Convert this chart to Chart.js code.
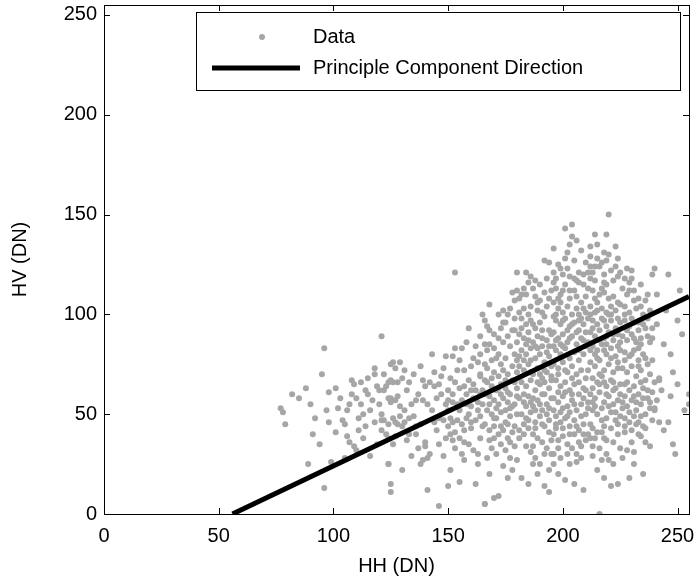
<!DOCTYPE html>
<html><head><meta charset="utf-8">
<script src="https://cdn.jsdelivr.net/npm/chart.js@4.4.0/dist/chart.umd.min.js"></script>
<style>html,body{margin:0;padding:0;background:#fff}#wrap{width:700px;height:585px}</style>
</head><body><div id="wrap"><canvas id="c" width="700" height="585"></canvas></div>
<script>
// Tick values (both axes)
const axisTicks = [0, 50, 100, 150, 200, 250];
// Principal component direction line (HH, HV)
const pcHH = [56, 255];
const pcHV = [0, 109];
// Data samples [HH, HV], grouped by HH range
const samplesHH075 = [[77,53],[78,51],[79,45],[88,63],[89,25],[91,40],[92,48],[96,83],[96,13],[98,61],[98,46],[99,26],[90,55],[94,35],[85,58],[82,60],[95,70],[97,52]];
const samplesHH100 = [[101,63],[101,41],[104,47],[105,28],[106,39],[106,52],[107,55],[108,60],[109,65],[110,58],[108,67],[109,34],[110,32],[111,42],[112,66],[113,50],[114,44],[115,68],[116,29],[116,52],[118,46],[118,73],[118,70],[120,62],[121,47],[121,42],[121,89],[121,50],[122,62],[124,66],[124,25],[123,40],[103,58],[105,45],[107,36],[112,55],[113,38],[115,60],[117,57],[119,35],[120,55],[122,70],[124,45],[102,53],[111,48],[114,62],[119,64],[125,58]];
const samplesHH125 = [[125,75],[126,76],[127,73],[128,66],[126,66],[125,67],[123,64],[130,68],[133,66],[138,74],[139,67],[140,64],[142,66],[144,64],[147,69],[148,73],[143,80],[149,79],[146,65],[150,62],[125,56],[124,58],[127,57],[129,54],[131,52],[134,55],[136,57],[139,57],[126,48],[127,46],[128,45],[130,44],[131,46],[133,48],[135,49],[136,44],[138,45],[129,49],[122,47],[124,38],[127,39],[132,37],[136,40],[140,36],[140,34],[142,30],[134,29],[138,25],[139,27],[141,28],[124,25],[130,22],[125,15],[125,11],[141,12],[146,4],[144,46],[146,48],[148,47],[150,44],[149,38],[145,42],[137,60],[132,62],[128,59],[141,55],[143,52],[145,58],[147,60],[135,70],[131,72],[129,76],[144,71],[149,55],[126,35],[133,40],[137,33],[146,35],[148,29]];
const samplesHH150 = [[153,121],[159,93],[164,89],[153,83],[156,83],[152,79],[164,80],[160,74],[163,76],[166,75],[164,70],[164,69],[151,68],[153,66],[155,63],[157,64],[159,67],[161,65],[162,62],[158,60],[160,62],[165,62],[150,57],[152,56],[154,55],[156,57],[158,55],[160,54],[163,56],[165,55],[151,48],[152,46],[154,47],[156,45],[158,48],[160,46],[162,47],[164,49],[165,44],[151,40],[153,41],[155,38],[157,36],[159,35],[161,32],[163,30],[157,27],[151,22],[155,16],[150,14],[162,15],[166,5],[159,50],[161,58],[163,52],[155,52],[152,60],[157,72],[155,77],[162,84],[165,100],[158,86],[160,43],[153,33],[156,30],[164,38],[150,52],[157,42],[164,60],[166,67],[154,72],[161,78],[166,85],[152,37],[163,25]];
const samplesHH165 = [[166,97],[167,94],[168,92],[170,90],[172,88],[168,85],[170,83],[172,80],[174,86],[176,89],[178,92],[177,84],[179,80],[175,78],[173,75],[169,77],[167,73],[170,71],[172,69],[174,72],[176,70],[178,74],[180,77],[167,66],[169,64],[171,62],[173,65],[175,63],[177,60],[179,66],[168,59],[170,57],[172,55],[174,58],[176,56],[178,54],[180,59],[167,52],[169,50],[171,48],[173,51],[175,46],[177,49],[179,44],[166,45],[168,42],[170,44],[172,40],[174,42],[176,38],[178,41],[168,37],[169,33],[171,30],[173,35],[175,32],[177,28],[179,34],[170,8],[172,9],[166,5],[168,20],[174,24],[176,18],[178,22],[180,27],[167,28],[172,100],[175,96],[177,103],[179,107],[178,111],[179,98],[171,78],[175,67],[177,53],[169,68],[173,60],[180,63],[166,60],[176,45],[174,102],[180,71],[168,105],[171,53],[179,55],[170,38],[177,36],[167,82],[173,93],[180,86]];
const samplesHH180 = [[181,38],[187,40],[187,25],[184,121],[185,116],[188,117],[190,115],[192,127],[194,126],[180,121],[181,108],[182,110],[184,110],[188,109],[190,107],[192,111],[186,104],[183,103],[181,101],[185,100],[189,102],[193,104],[194,108],[182,98],[184,95],[186,97],[188,93],[190,96],[192,99],[194,92],[181,90],[183,88],[185,91],[187,86],[189,89],[191,84],[193,87],[195,90],[182,82],[184,80],[186,83],[188,78],[190,80],[192,76],[194,79],[181,74],[183,72],[185,75],[187,70],[189,73],[191,68],[193,71],[195,74],[182,66],[184,64],[186,67],[188,62],[190,65],[192,60],[194,63],[181,58],[183,56],[185,59],[187,54],[189,57],[191,52],[193,55],[195,58],[182,50],[184,48],[186,51],[188,46],[190,49],[192,44],[194,47],[181,42],[183,40],[185,43],[189,38],[191,36],[193,33],[195,30],[184,34],[186,31],[188,28],[190,25],[194,22],[196,25],[194,11],[182,18],[185,15],[189,20],[192,14],[183,60],[186,77],[191,92],[193,81],[187,95],[184,85],[190,70],[186,56],[192,66],[188,52],[183,45],[194,53],[195,67],[191,60],[180,112],[187,113],[193,118],[183,77],[189,83]];
const samplesHH195 = [[201,143],[204,145],[204,139],[196,133],[202,131],[205,127],[198,125],[196,121],[200,120],[196,116],[201,115],[207,121],[209,120],[207,116],[197,113],[199,110],[203,108],[205,112],[208,106],[210,109],[196,106],[198,103],[200,101],[202,104],[204,100],[206,103],[208,98],[210,101],[197,97],[199,95],[201,98],[203,94],[205,96],[207,92],[209,95],[196,91],[198,88],[200,90],[202,86],[204,89],[206,85],[208,88],[210,84],[197,82],[199,80],[201,83],[203,78],[205,81],[207,77],[209,80],[196,75],[198,73],[200,76],[202,71],[204,74],[206,70],[208,72],[210,68],[197,67],[199,64],[201,66],[203,62],[205,65],[207,60],[209,63],[196,58],[198,56],[200,59],[202,54],[204,57],[206,52],[208,55],[210,50],[197,49],[199,46],[201,48],[203,44],[205,47],[207,42],[209,45],[196,40],[198,37],[200,39],[202,35],[204,33],[206,30],[208,34],[210,37],[199,28],[203,25],[206,26],[198,20],[201,17],[205,15],[209,12],[196,30],[208,28],[211,121],[211,98],[211,86],[211,72],[211,56],[211,40],[200,112],[203,119],[206,109],[197,100],[202,92],[207,82],[199,85],[204,68],[200,53],[205,40],[198,61],[209,58],[197,43],[210,91],[196,84],[203,51],[201,72],[207,100],[199,106],[205,118],[209,115],[202,123]];
const samplesHH210 = [[220,150],[214,140],[219,140],[212,134],[215,135],[223,134],[218,131],[220,130],[224,128],[219,127],[212,124],[214,124],[216,124],[213,121],[212,118],[214,117],[218,120],[218,116],[222,117],[224,119],[219,115],[213,112],[216,110],[218,111],[220,108],[222,109],[224,106],[215,106],[212,104],[214,101],[217,103],[219,101],[221,104],[223,102],[225,105],[213,97],[215,95],[217,98],[219,94],[221,97],[223,93],[225,96],[212,91],[214,89],[216,92],[218,88],[220,91],[222,87],[224,90],[213,84],[215,82],[217,85],[219,80],[221,83],[223,79],[225,82],[212,76],[214,74],[216,77],[218,72],[220,75],[222,71],[224,73],[213,68],[215,66],[217,69],[219,64],[221,67],[223,63],[225,65],[212,60],[214,58],[216,61],[218,56],[220,59],[222,55],[224,57],[213,52],[215,50],[217,53],[219,48],[221,51],[223,47],[225,49],[213,43],[214,38],[216,33],[218,44],[217,41],[219,37],[220,27],[217,27],[222,36],[224,40],[213,29],[215,22],[218,18],[221,14],[216,0],[212,45],[222,25],[224,15],[219,89],[216,70],[222,62],[214,80],[220,100],[218,66],[224,84],[213,56]];
const samplesHH225 = [[228,123],[230,122],[229,116],[230,118],[233,108],[236,107],[226,113],[228,110],[231,112],[234,104],[227,104],[229,101],[232,103],[235,100],[238,102],[227,97],[229,94],[231,96],[233,92],[235,95],[237,98],[239,93],[226,89],[228,87],[230,90],[232,86],[234,88],[238,86],[239,88],[227,81],[229,79],[231,82],[233,77],[235,80],[237,75],[226,73],[228,71],[230,74],[232,69],[234,72],[236,67],[238,70],[227,65],[229,62],[231,64],[233,60],[235,63],[237,58],[239,61],[226,56],[228,54],[230,57],[232,52],[234,55],[236,50],[238,53],[240,53],[227,48],[229,46],[231,49],[232,45],[234,49],[227,41],[233,40],[234,39],[236,36],[238,34],[230,36],[228,32],[226,28],[231,25],[235,20],[229,18],[240,123],[239,120],[234,115],[237,110],[239,77],[240,66],[227,59],[233,83],[235,44]];
const samplesHH240 = [[246,120],[250,97],[248,71],[242,68],[242,67],[247,59],[255,60],[255,55],[241,57],[240,52],[249,30],[242,46],[246,46],[244,85],[247,80],[252,90],[243,62],[245,102],[241,110],[250,65],[244,42],[248,35],[253,52],[241,95],[251,112]];
const samplesCore = [[183,113],[186,119],[189,106],[191,101],[195,112],[197,118],[199,123],[201,128],[203,135],[206,137],[208,132],[210,126],[212,129],[215,128],[217,126],[221,122],[223,124],[225,121],[227,118],[229,112],[231,107],[214,108],[217,113],[211,113],[206,117],[203,112],[198,108],[196,99],[200,97],[204,95],[207,97],[209,103],[212,100],[215,102],[218,97],[221,100],[224,98],[227,100],[230,98],[233,96],[236,93],[213,93],[216,87],[219,85],[222,90],[225,86],[228,92],[231,88],[234,85],[237,89],[182,93],[185,87],[188,84],[191,88],[194,84],[197,87],[200,84],[203,88],[206,91],[209,87],[212,82],[215,78],[218,82],[221,78],[224,76],[227,77],[230,80],[233,74],[236,78],[186,71],[189,66],[192,72],[195,69],[198,70],[201,61],[204,60],[207,66],[210,62],[213,63],[216,65],[219,60],[222,66],[225,60],[228,66],[231,59],[234,66],[237,62],[184,54],[187,58],[190,55],[193,50],[196,52],[199,51],[202,49],[205,55],[208,49],[211,53],[214,54],[217,47],[220,54],[223,51],[226,53],[229,51],[232,56],[235,58],[238,56],[185,47],[188,43],[191,45],[194,41],[197,45],[200,43],[203,40],[206,44],[209,40],[212,38],[215,41],[218,38],[221,43],[224,45],[227,44],[230,42],[233,46],[236,43],[239,47],[180,50],[176,61],[178,67],[181,79],[179,92],[176,100],[174,96],[172,63],[170,48],[168,55],[175,52],[173,44],[198,33],[202,30],[207,36],[213,34],[219,30],[225,33],[231,31],[187,34],[192,30],[195,37]];

const allSamples = [].concat(samplesHH075, samplesHH100, samplesHH125, samplesHH150, samplesHH165, samplesHH180, samplesHH195, samplesHH210, samplesHH225, samplesHH240, samplesCore);

const FONT = "'Liberation Sans', Arial, Helvetica, sans-serif";
const GRAY = '#a6a6a6';

const framePlugin = {
  id: 'frame',
  afterDatasetsDraw(chart) {
    const ctx = chart.ctx, a = chart.chartArea;
    const xs = chart.scales.x, ys = chart.scales.y;
    ctx.save();
    ctx.strokeStyle = '#000';
    ctx.lineWidth = 1;
    ctx.strokeRect(Math.round(a.left) + 0.5, Math.round(a.top) + 0.5, Math.round(a.right - a.left), Math.round(a.bottom - a.top));
    const tl = 6;
    ctx.beginPath();
    axisTicks.forEach(v => {
      const px = Math.round(xs.getPixelForValue(v)) + 0.5;
      ctx.moveTo(px, a.bottom); ctx.lineTo(px, a.bottom - tl);
      ctx.moveTo(px, a.top); ctx.lineTo(px, a.top + tl);
      const py = Math.round(ys.getPixelForValue(v)) + 0.5;
      ctx.moveTo(a.left, py); ctx.lineTo(a.left + tl, py);
      ctx.moveTo(a.right, py); ctx.lineTo(a.right - tl, py);
    });
    ctx.stroke();
    // legend
    const lx = 196.5, ly = 12.5, lw = 484, lh = 78;
    ctx.fillStyle = '#fff';
    ctx.fillRect(lx, ly, lw, lh);
    ctx.strokeRect(lx, ly, lw, lh);
    ctx.fillStyle = GRAY;
    ctx.beginPath(); ctx.arc(262, 37, 3, 0, Math.PI * 2); ctx.fill();
    ctx.strokeStyle = '#000'; ctx.lineWidth = 5;
    ctx.beginPath(); ctx.moveTo(212, 68); ctx.lineTo(300, 68); ctx.stroke();
    ctx.fillStyle = '#000';
    ctx.font = '20px ' + FONT;
    ctx.textBaseline = 'middle';
    ctx.textAlign = 'left';
    ctx.fillText(chart.data.datasets[1].label, 313, 37);
    ctx.fillText(chart.data.datasets[0].label, 313, 68);
    ctx.restore();
  }
};

new Chart(document.getElementById('c'), {
  type: 'scatter',
  data: {
    datasets: [
      {
        label: 'Principle Component Direction',
        type: 'line',
        data: pcHH.map((x, i) => ({ x: x, y: pcHV[i] })),
        borderColor: '#000',
        borderWidth: 5,
        pointRadius: 0,
        fill: false,
        order: 0
      },
      {
        label: 'Data',
        data: allSamples.map(p => ({ x: p[0], y: p[1] })),
        pointRadius: 3,
        pointHoverRadius: 3,
        backgroundColor: GRAY,
        borderWidth: 0,
        order: 1
      }
    ]
  },
  options: {
    responsive: false,
    devicePixelRatio: 1,
    animation: false,
    events: [],
    layout: { padding: { left: 0, right: 11, top: 5, bottom: 0 } },
    plugins: { legend: { display: false }, tooltip: { enabled: false } },
    scales: {
      x: {
        type: 'linear', min: 0, max: 255,
        afterBuildTicks: s => { s.ticks = axisTicks.map(v => ({ value: v })); },
        afterFit: s => { s.height = 71; s.paddingLeft = 0; s.paddingRight = 0; },
        grid: { display: false, drawTicks: false },
        border: { display: false },
        ticks: { color: '#000', font: { family: FONT, size: 20 }, padding: 10, maxRotation: 0 },
        title: { display: true, text: 'HH (DN)', color: '#000', font: { family: FONT, size: 20 }, padding: { top: 0, bottom: 7 } }
      },
      y: {
        type: 'linear', min: 0, max: 255,
        afterBuildTicks: s => { s.ticks = axisTicks.map(v => ({ value: v })); },
        afterFit: s => { s.width = 104; s.paddingTop = 0; s.paddingBottom = 0; },
        grid: { display: false, drawTicks: false },
        border: { display: false },
        ticks: { color: '#000', font: { family: FONT, size: 20 }, padding: 7 },
        title: { display: true, text: 'HV (DN)', color: '#000', font: { family: FONT, size: 20 }, padding: { top: 8, bottom: 0 } }
      }
    }
  },
  plugins: [framePlugin]
});
</script>
</body></html>
